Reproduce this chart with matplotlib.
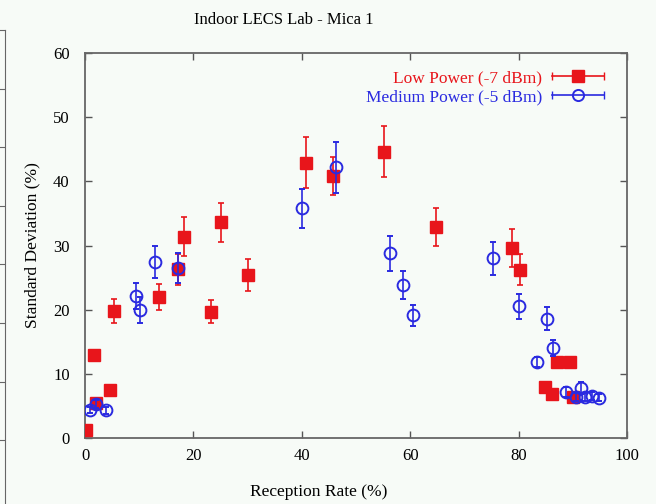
import matplotlib.pyplot as plt
from matplotlib.lines import Line2D
from matplotlib.legend_handler import HandlerLine2D, HandlerTuple

plt.rcParams['font.family'] = ['Liberation Serif', 'DejaVu Serif']

# Low Power (-7 dBm)
low_x = [0.2, 1.7, 2.0, 4.6, 5.4, 13.7, 17.2, 18.3, 23.2, 25.0, 30.1, 40.8, 45.8,
         55.2, 64.8, 78.8, 80.3, 84.9, 86.1, 87.1, 89.4, 90.1]
low_y = [1.2, 12.9, 5.5, 7.5, 19.8, 22.0, 26.3, 31.4, 19.7, 33.6, 25.4, 42.9, 40.8,
         44.6, 32.9, 29.6, 26.2, 8.0, 6.9, 11.9, 11.9, 6.4]
low_err = [0.4, 0.7, 0.5, 0.6, 1.9, 2.0, 2.4, 3.0, 1.8, 3.0, 2.5, 4.0, 3.0,
           4.0, 3.0, 3.0, 2.4, 0.6, 0.5, 0.8, 0.8, 0.5]

# Medium Power (-5 dBm)
med_x = [0.9, 2.0, 3.8, 9.4, 10.1, 12.9, 17.2, 40.0, 46.4, 56.2, 58.6, 60.6,
         75.3, 80.1, 85.2, 86.4, 83.4, 88.7, 91.6, 90.6, 92.3, 93.5, 94.9]
med_y = [4.4, 5.3, 4.3, 22.1, 19.9, 27.5, 26.5, 35.8, 42.2, 28.8, 23.8, 19.1,
         28.0, 20.5, 18.6, 14.0, 11.9, 7.2, 7.8, 6.4, 6.4, 6.5, 6.3]
med_err = [0.5, 0.6, 0.5, 2.0, 2.0, 2.5, 2.3, 3.0, 4.0, 2.7, 2.2, 1.7,
           2.6, 2.0, 1.8, 1.2, 0.8, 0.8, 1.0, 0.6, 0.6, 0.6, 0.5]

x_ticks = [0, 20, 40, 60, 80, 100]
y_ticks = [0, 10, 20, 30, 40, 50, 60]

red = '#e8151b'
blue = '#2a2ae0'
bg = '#f7fbf7'

fig = plt.figure(figsize=(6.56, 5.04), dpi=100, facecolor=bg)
ax = fig.add_axes([85/656, 1 - 438/504, 542/656, 385/504])
ax.set_facecolor(bg)

ax.errorbar(low_x, low_y, yerr=low_err, fmt='s', color=red, ms=8.5,
            elinewidth=1.2, capsize=2.5, capthick=1.2, zorder=3)
ax.errorbar(med_x, med_y, yerr=med_err, fmt='o', color=blue, mfc='none', ms=8.5,
            mew=1.4, elinewidth=1.2, capsize=2.5, capthick=1.2, zorder=4)

ax.set_xlim(0, 100)
ax.set_ylim(0, 60)
ax.set_xticks(x_ticks)
ax.set_yticks(y_ticks)
ax.tick_params(direction='in', length=5, width=1, color='#555555',
               top=True, right=True, labelsize=12)
ax.tick_params(axis='x', pad=7)
ax.tick_params(axis='y', pad=11)
for s in ax.spines.values():
    s.set_color('#666666')
    s.set_linewidth(1.3)

fig.text(0.433, 1 - 20/504, 'Indoor LECS Lab - Mica 1', ha='center', va='center',
         fontsize=12)
fig.text(0.486, 0.024, 'Reception Rate (%)', ha='center', va='center', fontsize=12.5)
fig.text(0.05, 1 - 245/504, 'Standard Deviation (%)', ha='center', va='center',
         rotation=90, fontsize=12.5)

# gnuplot style legend keys: line with end caps and marker in the middle
low_line = Line2D([], [], color=red, marker='|', ms=6, lw=1.2)
low_mark = Line2D([], [], color=red, marker='s', ms=8, ls='none')
med_line = Line2D([], [], color=blue, marker='|', ms=6, lw=1.2)
med_mark = Line2D([], [], color=blue, marker='o', ms=8, mfc='none', mew=1.4, ls='none')
hmap = {low_line: HandlerLine2D(numpoints=2), med_line: HandlerLine2D(numpoints=2),
        low_mark: HandlerLine2D(numpoints=1), med_mark: HandlerLine2D(numpoints=1),
        tuple: HandlerTuple(ndivide=1)}
leg = ax.legend([(low_line, low_mark), (med_line, med_mark)],
                ['Low Power (-7 dBm)', 'Medium Power (-5 dBm)'],
                handler_map=hmap, loc='upper right', frameon=False, markerfirst=False,
                fontsize=12.5, handlelength=3.6, labelspacing=0.15, borderaxespad=0.6,
                handletextpad=0.3)
leg.get_texts()[0].set_color(red)
leg.get_texts()[1].set_color(blue)

# edge of the neighbouring chart on the left
ax2 = fig.add_axes([-0.1, 0, 0.1 + 5/656, 1 - 30/504])
ax2.set_facecolor('none')
ax2.set_xticks([])
ax2.set_ylim(0, 1)
ax2.set_yticks([1 - k * 58.6 / 474 for k in range(1, 8)])
ax2.set_yticklabels([])
ax2.tick_params(axis='y', left=False, right=True, direction='in', length=4,
                color='#666666')
ax2.spines['left'].set_visible(False)
ax2.spines['bottom'].set_visible(False)
for s in ['right', 'top']:
    ax2.spines[s].set_color('#666666')

fig.savefig('out.png', dpi=100, facecolor=bg)
